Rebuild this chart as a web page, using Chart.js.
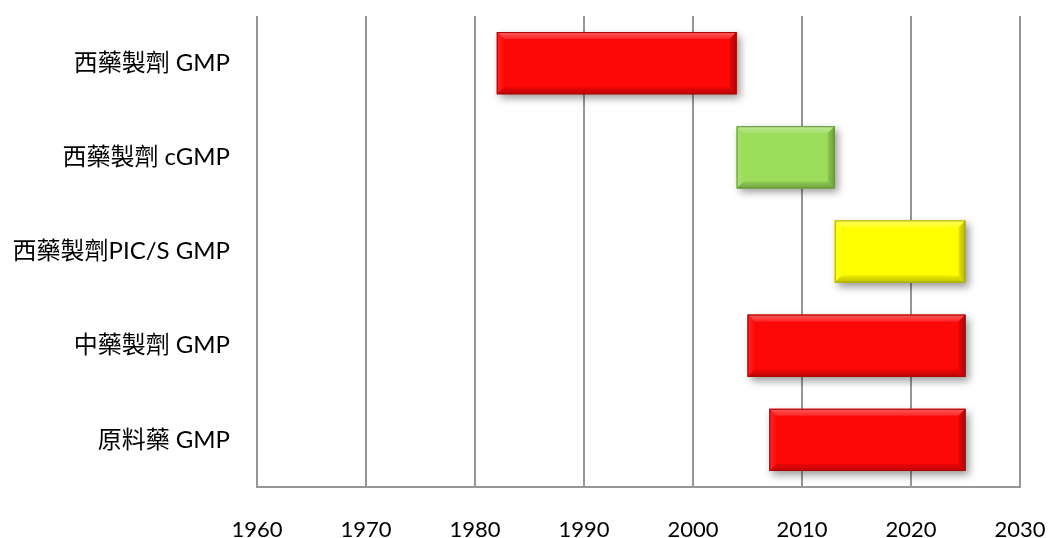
<!DOCTYPE html>
<html>
<head>
<meta charset="utf-8">
<title>GMP 實施時程</title>
<script src="https://cdn.jsdelivr.net/npm/chart.js@4/dist/chart.umd.min.js"></script>
<style>
  html, body { margin: 0; padding: 0; background: #ffffff; }
  #wrap { width: 1054px; height: 538px; }
</style>
</head>
<body>
<div id="wrap"><canvas id="c" width="1054" height="538"></canvas></div>
<script>
// Categories (top to bottom) and the span of years each one covers
const categories = ['西藥製劑 GMP', '西藥製劑 cGMP', '西藥製劑PIC/S GMP', '中藥製劑 GMP', '原料藥 GMP'];
const startYears = [1982, 2004, 2013, 2005, 2007];
const endYears   = [2004, 2013, 2025, 2025, 2025];
const barColors  = ['#fe0707', '#9bdc5b', '#ffff00', '#fe0707', '#fe0707'];
const yearTicks  = [1960, 1970, 1980, 1990, 2000, 2010, 2020, 2030];

const spans = categories.map((_, i) => [startYears[i], endYears[i]]);

// Darken / lighten a hex colour by a factor
function shade(hex, f) {
  const n = parseInt(hex.slice(1), 16);
  let r = (n >> 16) & 255, g = (n >> 8) & 255, b = n & 255;
  if (f < 0) { r *= 1 + f; g *= 1 + f; b *= 1 + f; }
  else { r += (255 - r) * f; g += (255 - g) * f; b += (255 - b) * f; }
  return `rgb(${Math.round(r)},${Math.round(g)},${Math.round(b)})`;
}

// Soft drop shadow under the bars
const barShadow = {
  id: 'barShadow',
  beforeDatasetDraw(chart) {
    const ctx = chart.ctx;
    ctx.save();
    ctx.shadowColor = 'rgba(0,0,0,0.4)';
    ctx.shadowBlur = 8;
    ctx.shadowOffsetX = 3;
    ctx.shadowOffsetY = 4;
  },
  afterDatasetDraw(chart) {
    chart.ctx.restore();
  }
};

// Bevelled edges drawn over each bar, using the bar element geometry
const barBevel = {
  id: 'barBevel',
  afterDatasetsDraw(chart) {
    const ctx = chart.ctx;
    const meta = chart.getDatasetMeta(0);
    meta.data.forEach((bar, i) => {
      const p = bar.getProps(['x', 'y', 'base', 'height'], true);
      const L = Math.min(p.x, p.base), R = Math.max(p.x, p.base);
      const T = p.y - p.height / 2, B = p.y + p.height / 2;
      const w = 7;
      const col = barColors[i];
      ctx.save();
      // top
      let g = ctx.createLinearGradient(0, T, 0, T + w);
      g.addColorStop(0, shade(col, 0.35));
      g.addColorStop(1, shade(col, 0.12));
      ctx.fillStyle = g;
      ctx.beginPath();
      ctx.moveTo(L, T); ctx.lineTo(R, T); ctx.lineTo(R - w, T + w); ctx.lineTo(L + w, T + w);
      ctx.closePath(); ctx.fill();
      // left
      g = ctx.createLinearGradient(L, 0, L + w, 0);
      g.addColorStop(0, shade(col, 0.12));
      g.addColorStop(1, shade(col, 0.02));
      ctx.fillStyle = g;
      ctx.beginPath();
      ctx.moveTo(L, T); ctx.lineTo(L + w, T + w); ctx.lineTo(L + w, B - w); ctx.lineTo(L, B);
      ctx.closePath(); ctx.fill();
      // bottom
      g = ctx.createLinearGradient(0, B - w, 0, B);
      g.addColorStop(0, shade(col, -0.08));
      g.addColorStop(1, shade(col, -0.25));
      ctx.fillStyle = g;
      ctx.beginPath();
      ctx.moveTo(L, B); ctx.lineTo(L + w, B - w); ctx.lineTo(R - w, B - w); ctx.lineTo(R, B);
      ctx.closePath(); ctx.fill();
      // right
      g = ctx.createLinearGradient(R - w, 0, R, 0);
      g.addColorStop(0, shade(col, -0.1));
      g.addColorStop(1, shade(col, -0.3));
      ctx.fillStyle = g;
      ctx.beginPath();
      ctx.moveTo(R, T); ctx.lineTo(R, B); ctx.lineTo(R - w, B - w); ctx.lineTo(R - w, T + w);
      ctx.closePath(); ctx.fill();
      // thin outline
      ctx.strokeStyle = shade(col, -0.35);
      ctx.lineWidth = 1;
      ctx.strokeRect(L + 0.5, T + 0.5, R - L - 1, B - T - 1);
      ctx.restore();
    });
  }
};

new Chart(document.getElementById('c'), {
  type: 'bar',
  data: {
    labels: categories,
    datasets: [{
      data: spans,
      backgroundColor: barColors,
      borderWidth: 0,
      borderSkipped: false,
      barPercentage: 0.66,
      categoryPercentage: 1.0
    }]
  },
  options: {
    indexAxis: 'y',
    responsive: false,
    animation: false,
    devicePixelRatio: 1,
    layout: { padding: { top: 16, right: 34, left: 0, bottom: 0 } },
    plugins: {
      legend: { display: false },
      tooltip: { enabled: false }
    },
    scales: {
      x: {
        type: 'linear',
        min: yearTicks[0],
        max: yearTicks[yearTicks.length - 1],
        afterBuildTicks(scale) {
          scale.ticks = yearTicks.map(v => ({ value: v }));
        },
        afterFit(scale) {
          scale.height = 51;
          scale.paddingLeft = 0;
          scale.paddingRight = 0;
        },
        grid: {
          color: '#969696',
          lineWidth: 2,
          drawTicks: false
        },
        border: { display: true, color: '#969696', width: 2 },
        ticks: {
          padding: 30,
          color: '#000000',
          font: { family: 'Lato, "Noto Sans CJK TC", sans-serif', size: 22 },
          callback: v => String(v)
        }
      },
      y: {
        afterFit(scale) {
          scale.width = 257;
          scale.paddingTop = 0;
          scale.paddingBottom = 0;
        },
        grid: { display: false, drawTicks: false },
        border: { display: false },
        ticks: {
          padding: 27,
          color: '#000000',
          font: { family: 'Lato, "Noto Sans CJK TC", sans-serif', size: 24 }
        }
      }
    }
  },
  plugins: [barShadow, barBevel]
});
</script>
</body>
</html>
